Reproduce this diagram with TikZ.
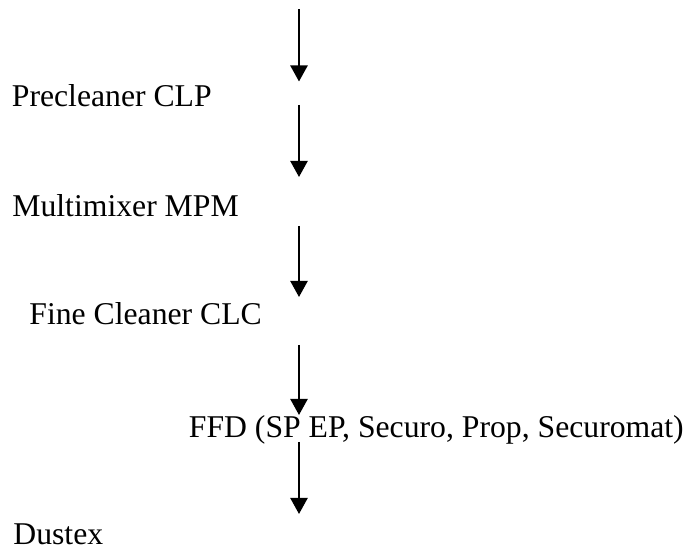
\documentclass[tikz,border=0pt]{standalone}
\usepackage{fontspec}
\setmainfont{Liberation Serif}
\usetikzlibrary{arrows.meta}

\begin{document}
\begin{tikzpicture}[
  x=0.5pt, y=-0.5pt,
  >={Triangle[length=8pt, width=8.5pt]},
  arr/.style={draw=black, line width=1.2pt, ->},
  stage/.style={anchor=base west, inner sep=0pt, font=\fontsize{15.85}{19}\selectfont},
]

% Page frame
\useasboundingbox (0,0) rectangle (693,550);

% === Stages of the line ===
\node[stage] (clp) at (11.5,107) {Precleaner CLP};
\node[stage] (mpm) at (12,216.5) {Multimixer MPM};
\node[stage] (clc) at (29,325) {Fine Cleaner CLC};
\node[stage] (ffd) at (188.5,437.5) {FFD (SP EP, Securo, Prop, Securomat)};
\node[stage] (dtx) at (13,544.5) {Dustex};

% === Arrow ends on the flow axis ===
\coordinate (in)  at (299,9.5);
\coordinate (e1)  at (299,81.5);
\coordinate (s2)  at (299,105);
\coordinate (e2)  at (299,177);
\coordinate (s3)  at (299,226);
\coordinate (e3)  at (299,297);
\coordinate (s4)  at (299,345);
\coordinate (e4)  at (299,415);
\coordinate (s5)  at (299,442);
\coordinate (e5)  at (299,514);

% Flow arrows
\draw[arr] (in) -- (e1);
\draw[arr] (s2) -- (e2);
\draw[arr] (s3) -- (e3);
\draw[arr] (s4) -- (e4);
\draw[arr] (s5) -- (e5);

\end{tikzpicture}
\end{document}
